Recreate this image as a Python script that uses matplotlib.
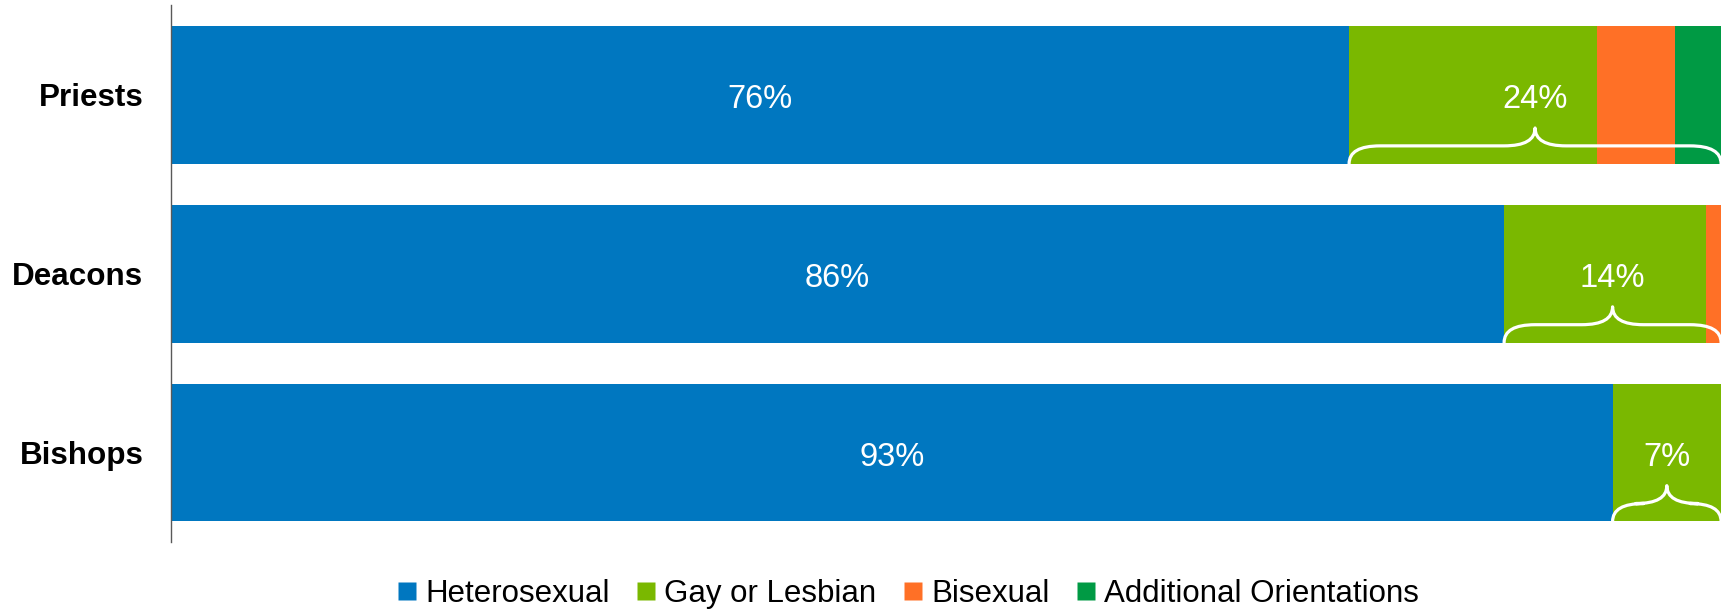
import numpy as np
import matplotlib.pyplot as plt
from matplotlib.path import Path
from matplotlib.patches import PathPatch

plt.rcParams['font.family'] = ['Liberation Sans', 'DejaVu Sans']

# data
groups = ['Priests', 'Deacons', 'Bishops']
series = ['Heterosexual', 'Gay or Lesbian', 'Bisexual', 'Additional Orientations']
hetero = [76, 86, 93]
gay = [16, 13, 7]
bisexual = [5, 1, 0]
additional = [3, 0, 0]
colors = ['#0077C0', '#7AB800', '#FF7026', '#009A44']

values = np.array([hetero, gay, bisexual, additional], dtype=float)

fig = plt.figure(figsize=(17.28, 6.10), dpi=100)
ax = fig.add_axes([0.099, 0.1115, 0.897, 0.8795])

y = np.arange(len(groups))
bar_h = 0.77
left = np.zeros(len(groups))
for vals, name, c in zip(values, series, colors):
    ax.barh(y, vals, left=left, height=bar_h, color=c, label=name, edgecolor='none')
    left += vals

# brace under the non-heterosexual part
def brace(ax, x0, x1, ybot, r=2.0, dy=0.1):
    xc = (x0 + x1) / 2
    ym = ybot - dy
    yt = ybot - 2 * dy
    verts = [(x0, ybot), (x0, ym), (x0 + r, ym),
             (xc - r, ym), (xc, ym), (xc, yt),
             (xc, ym), (xc + r, ym),
             (x1 - r, ym), (x1, ym), (x1, ybot)]
    codes = [Path.MOVETO, Path.CURVE3, Path.CURVE3,
             Path.LINETO, Path.CURVE3, Path.CURVE3,
             Path.CURVE3, Path.CURVE3,
             Path.LINETO, Path.CURVE3, Path.CURVE3]
    ax.add_patch(PathPatch(Path(verts, codes), facecolor='none', edgecolor='white',
                           lw=2.3, capstyle='round', joinstyle='round', clip_on=False))

for i in range(len(groups)):
    h = hetero[i]
    rest = 100 - h
    ax.text(h / 2, i + 0.025, f'{h:.0f}%', ha='center', va='center', color='white', fontsize=23.5)
    ax.text(h + rest / 2, i + 0.025, f'{rest:.0f}%', ha='center', va='center', color='white', fontsize=23.5)
    brace(ax, h, 100, i + bar_h / 2)

ax.set_xlim(0, 100)
ax.set_ylim(2.5, -0.5)
ax.set_yticks(y)
ax.set_yticklabels(groups, fontsize=22.6, fontweight='bold')
ax.tick_params(axis='y', length=0, pad=20)
ax.set_xticks([])
for s in ['top', 'right', 'bottom']:
    ax.spines[s].set_visible(False)
ax.spines['left'].set_color('#595959')
ax.spines['left'].set_linewidth(1.0)

handles = [plt.Line2D([], [], marker='s', linestyle='none', markersize=12.5,
                      markerfacecolor=c, markeredgecolor='none') for c in colors]
fig.legend(handles, series, loc='center', bbox_to_anchor=(0.526, 0.027), ncol=4,
           frameon=False, fontsize=22.5, handlelength=0.55, handletextpad=0.3,
           columnspacing=0.9, borderaxespad=0)

fig.savefig('out.png', dpi=100)
